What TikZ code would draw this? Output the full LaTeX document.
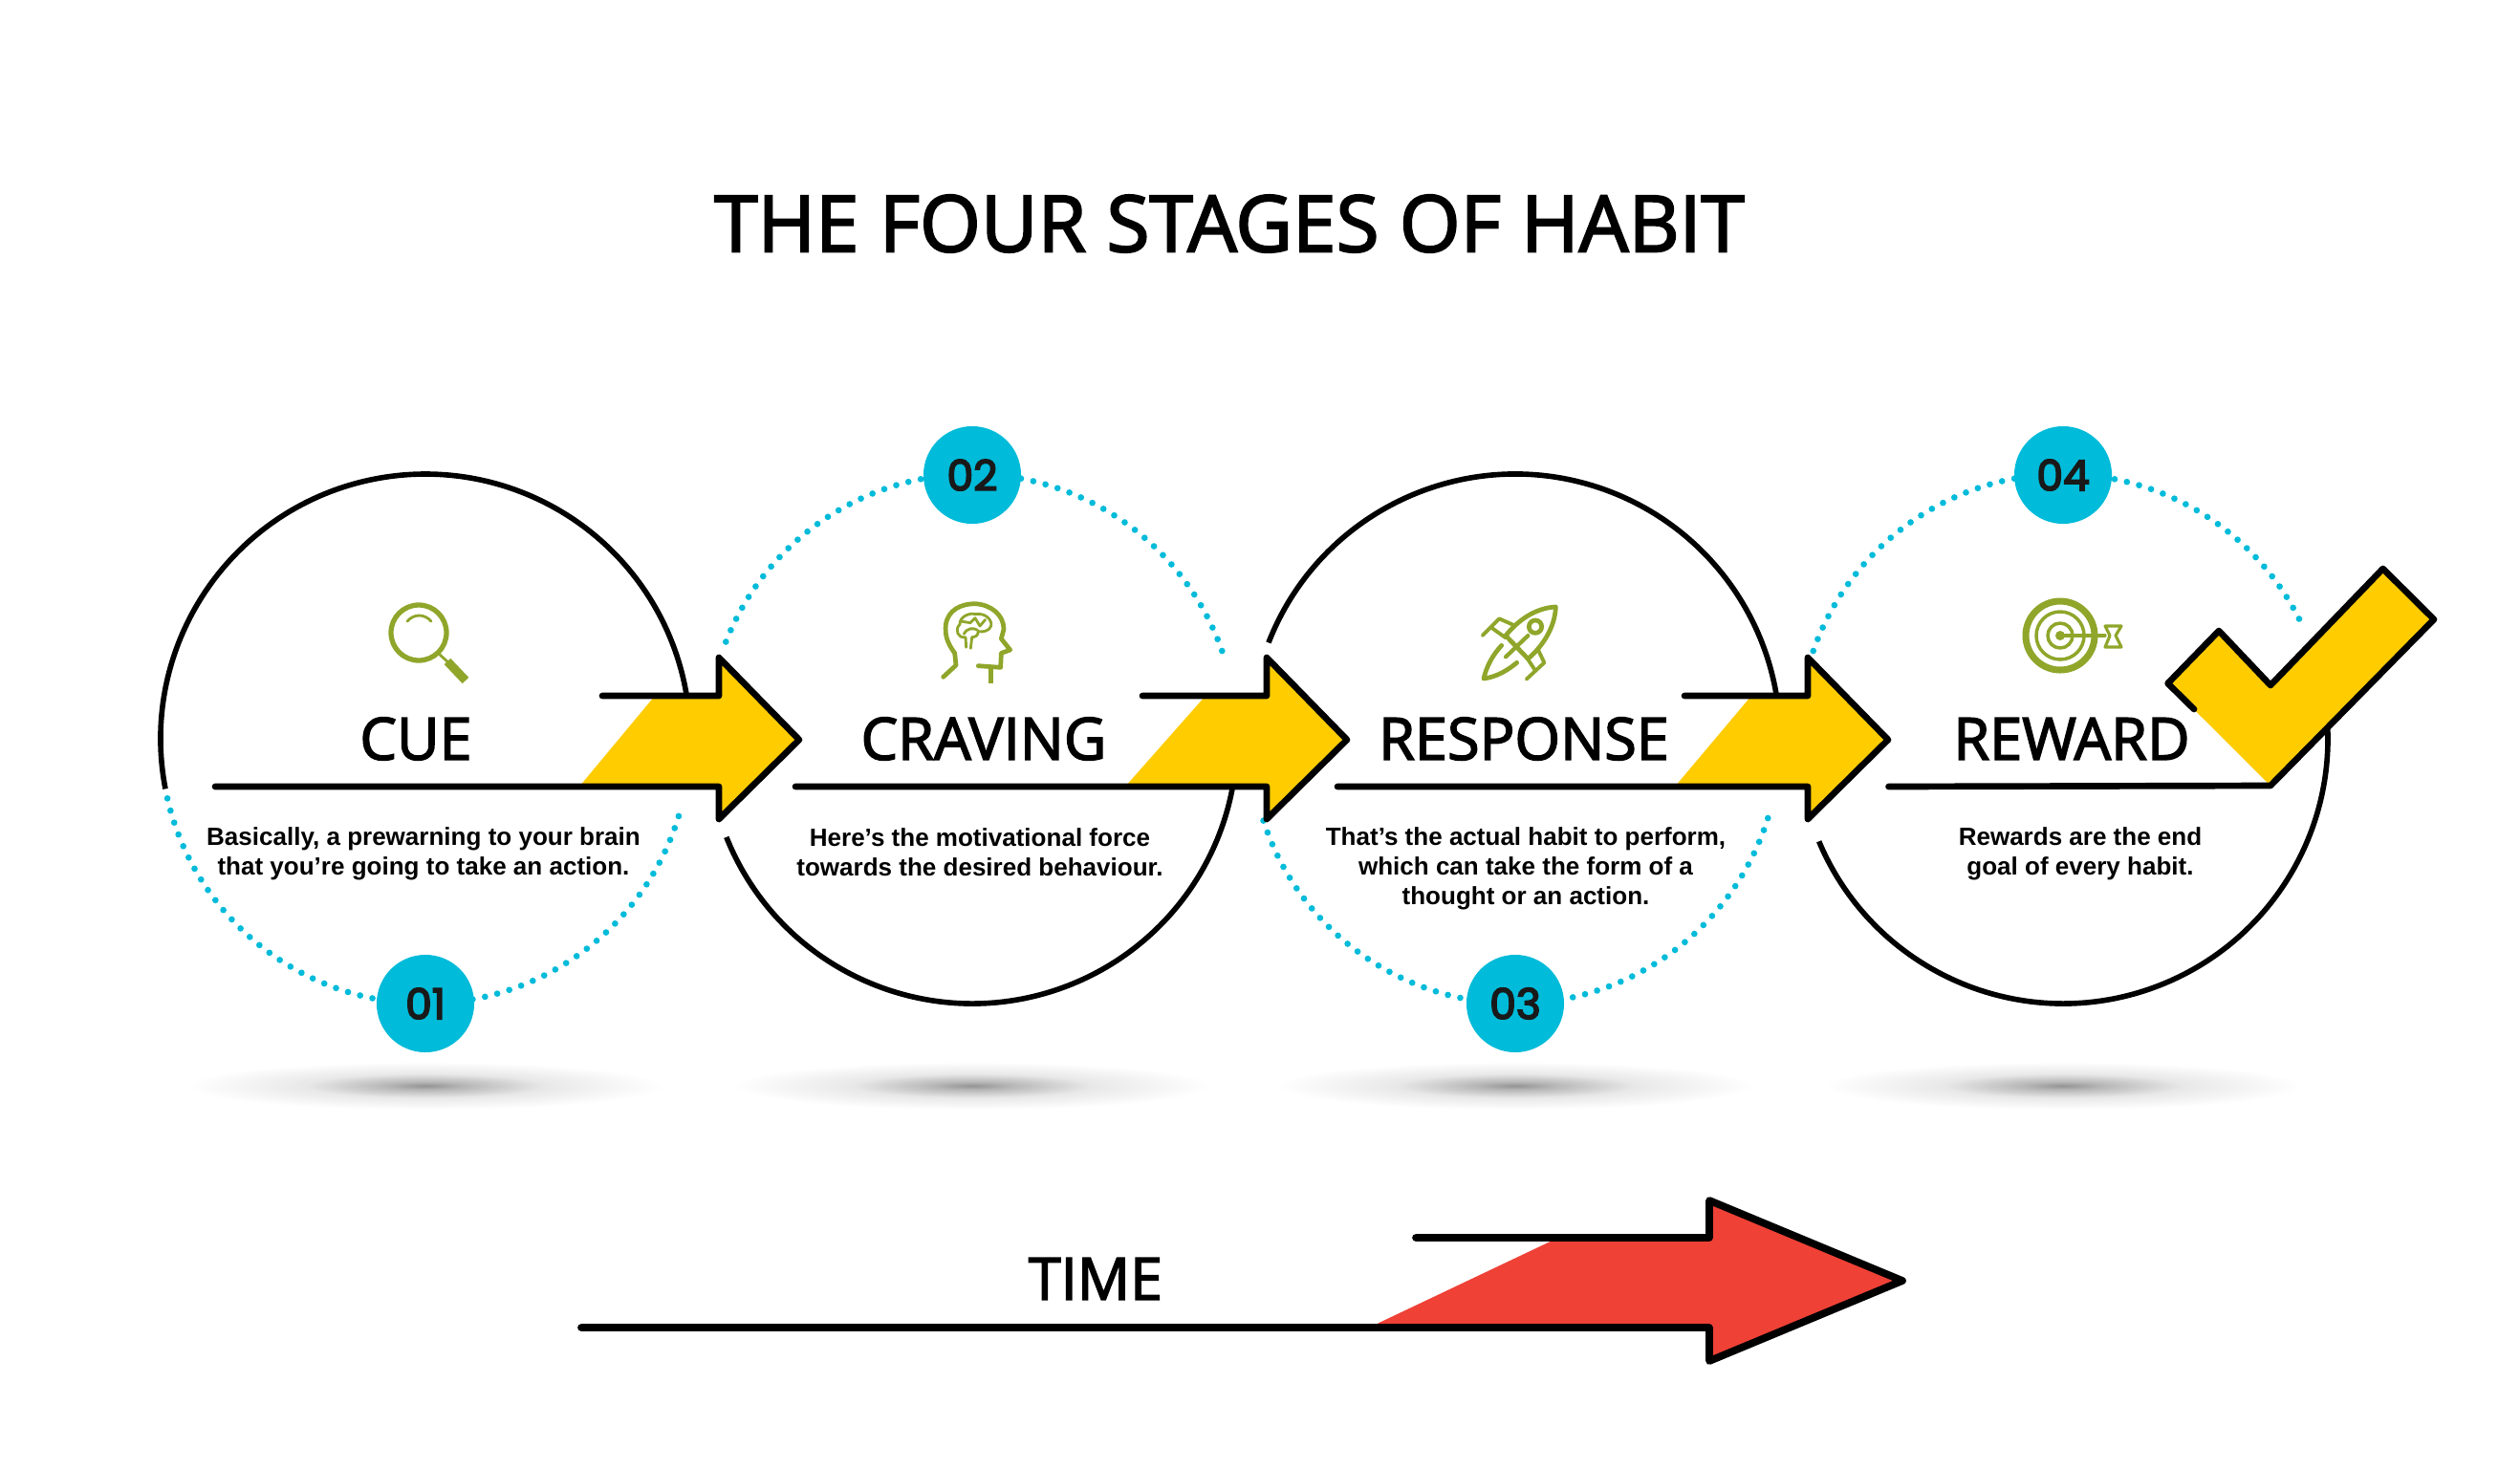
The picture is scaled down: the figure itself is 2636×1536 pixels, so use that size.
\documentclass[tikz,border=0pt]{standalone}
\usepackage{fontspec}
\setmainfont{Open Sans}
\newfontfamily\headfont{Open Sans}[FakeBold=2.5]
\newfontfamily\bodyfont{Liberation Sans}
\newfontfamily\numfont{Poppins}[FakeBold=4]
\definecolor{arrowyellow}{HTML}{FFCC00}
\definecolor{badgecyan}{HTML}{00BBD9}
\definecolor{iconolive}{HTML}{8FA62B}
\definecolor{timered}{HTML}{EF4136}
\pgfdeclareradialshading{floorshade}{\pgfpoint{0bp}{0bp}}{%
  color(0bp)=(black!42); color(4bp)=(black!28); color(12bp)=(black!9); color(24bp)=(white); color(50bp)=(white)}
\tikzset{
  ringsolid/.style={draw=black,line width=1.6pt},
  ringdots/.style={draw=badgecyan,line width=1.9pt,line cap=round,dash pattern=on 0pt off 3.75pt},
  badge/.style={circle,fill=badgecyan,minimum size=1.02cm,inner sep=0pt,text=black!90,font=\numfont\fontsize{12.5}{14}\selectfont},
  arrowline/.style={draw=black,line width=1.9pt,line join=round,line cap=round},
  stagetitle/.style={inner sep=0pt,font=\headfont\fontsize{17.4}{20}\selectfont},
  stagetext/.style={inner sep=0pt,align=center,font=\bodyfont\bfseries\fontsize{7.4}{8.85}\selectfont},
  icon/.style={draw=iconolive,line width=1.35pt,line join=round,line cap=round},
  floor/.style={shading=floorshade}
}
\begin{document}
\begin{tikzpicture}[x=0.01cm,y=-0.01cm]
  \useasboundingbox (0,0) rectangle (2636,1536);
  % floor shadows
  \foreach \cx in {445,1017,1585,2158}
    \path[floor] (\cx,1136) ellipse (260 and 26);
  % rings
  \foreach \cx/\from/\to in {445/-190.9/-9.4,1017/-201.8/-349.5,1585/-158.7/-9.3,2158/-202.8/-363}
    \draw[ringsolid] (\cx,773) ++(\from:277) arc[start angle=\from,end angle=\to,radius=277];
  \foreach \cx/\from/\to in {445/-193/-344,1017/-158.5/-18,1585/-198/-344,2158/-160.6/-25}
    \draw[ringdots] (\cx,773) ++(\from:277) arc[start angle=\from,end angle=\to,radius=277];
  % badges
  \node[badge] (badgeA) at (445,1050) {01};
  \node[badge] (badgeB) at (1017,497) {02};
  \node[badge] (badgeC) at (1585,1050) {03};
  \node[badge] (badgeD) at (2158,497) {04};
  % stage arrows
  \foreach \lx/\ux/\yb/\yt/\sx in {225/630/606/685/752,832/1195/1177/1261/1325,1399/1762/1752/1832/1891}{
    \fill[arrowyellow] (\yb,823) -- (\yt,728) -- (\sx,728) -- (\sx,688) -- (\sx+84,774) -- (\sx,857) -- (\sx,823) -- cycle;
    \draw[arrowline] (\ux,728) -- (\sx,728) -- (\sx,688) -- (\sx+84,774) -- (\sx,857) -- (\sx,823) -- (\lx,823);
  }
  % tick
  \fill[arrowyellow] (2375,822) -- (2546,648) -- (2492.6,595) -- (2375,717) -- (2321,660) -- (2267.6,715) -- cycle;
  \draw[arrowline] (1975.5,823) -- (2375,822) -- (2546,648) -- (2492.6,595) -- (2375,717) -- (2321,660) -- (2267.6,715) -- (2295,742);
  % time arrow
  \fill[timered] (1432,1389) -- (1630,1295) -- (1788,1295) -- (1788,1256) -- (1990,1340) -- (1788,1424) -- (1788,1389) -- cycle;
  \draw[arrowline,line width=2.2pt] (1481,1295) -- (1788,1295) -- (1788,1256) -- (1990,1340) -- (1788,1424) -- (1788,1389) -- (608,1389);
  % texts
  \node[inner sep=0pt,font=\headfont\fontsize{23.3}{28}\selectfont] (title) at (1286,234) {THE FOUR STAGES OF HABIT};
  \node[stagetitle] (cue) at (435,773) {CUE};
  \node[stagetitle] (craving) at (1029,773) {CRAVING};
  \node[stagetitle] (response) at (1594,773) {RESPONSE};
  \node[stagetitle] (reward) at (2167,773) {REWARD};
  \node[stagetitle] (time) at (1146,1338) {TIME};
  \node[stagetext] (cuetext) at (443,893.5) {Basically, a prewarning to your brain\\that you’re going to take an action.};
  \node[stagetext] (cravingtext) at (1025,891.5) {Here’s the motivational force\\towards the desired behaviour.};
  \node[stagetext] (responsetext) at (1596,908.5) {That’s the actual habit to perform,\\which can take the form of a\\thought or an action.};
  \node[stagetext] (rewardtext) at (2176,893.5) {Rewards are the end\\goal of every habit.};
  % magnifier icon
  \draw[icon,line width=1.5pt] (438,662) circle (29);
  \draw[icon,line width=0.8pt] (426,650) .. controls (433,642) and (444,642) .. (451,650);
  \draw[icon,line width=0.8pt] (460,685) -- (470,694);
  \draw[icon,line width=2.6pt,line cap=butt] (468,692) -- (487,712);
  % head icon
  \begin{scope}[shift={(940,600)},scale=1/3]
    \draw[icon] (140,325) -- (180,288) -- (176,250) .. controls (150,215) and (145,190) .. (148,160)
      .. controls (155,115) and (195,95) .. (240,95) .. controls (290,98) and (330,130) .. (330,175)
      -- (322,205) -- (350,240) -- (322,250) -- (320,295) -- (250,290);
    \draw[icon,line width=1.6pt,line cap=butt] (290,292) -- (290,345);
    \draw[icon,line width=0.8pt] (212,232) -- (210,200) .. controls (185,205) and (175,175) .. (192,160)
      .. controls (190,135) and (225,122) .. (240,128) .. controls (270,122) and (295,145) .. (290,165)
      .. controls (285,180) and (265,185) .. (250,182) .. controls (250,198) and (235,200) .. (230,200) -- (226,235);
    \draw[icon,line width=0.8pt] (205,190) .. controls (215,170) and (235,170) .. (248,178);
    \draw[icon,line width=0.8pt] (195,150) -- (225,155) -- (240,140) -- (255,165) -- (272,145);
  \end{scope}
  % rocket icon
  \begin{scope}[shift={(1530,610)},scale=1/3]
    \draw[icon] (292,75) .. controls (230,78) and (175,115) .. (135,165) -- (205,238)
      .. controls (255,195) and (290,135) .. (292,75);
    \draw[icon] (228,137) circle (20);
    \draw[icon,line width=1.1pt] (62,165) -- (115,112) -- (160,132);
    \draw[icon,line width=1.1pt] (90,140) -- (135,172);
    \draw[icon,line width=1.1pt] (200,302) -- (256,250) -- (236,208);
    \draw[icon,line width=1.1pt] (228,275) -- (205,240);
    \draw[icon] (122,196) .. controls (95,225) and (75,260) .. (66,300) .. controls (105,295) and (140,275) .. (170,250);
    \draw[icon,line width=1.2pt] (205,165) -- (135,232);
    \draw[icon,line width=1.2pt] (148,180) -- (180,212);
  \end{scope}
  % target icon
  \draw[icon,line width=2pt] (2155,665) circle (36);
  \draw[icon,line width=1pt] (2155,665) circle (25);
  \draw[icon,line width=1pt] (2155,665) circle (13);
  \fill[iconolive] (2155,665) circle (5);
  \draw[icon,line width=0.9pt] (2155,665) -- (2202,665);
  \draw[icon,line width=0.9pt] (2202,655) -- (2219,655) -- (2213,665) -- (2219,677) -- (2202,677) -- (2207,665) -- cycle;
\end{tikzpicture}
\end{document}
